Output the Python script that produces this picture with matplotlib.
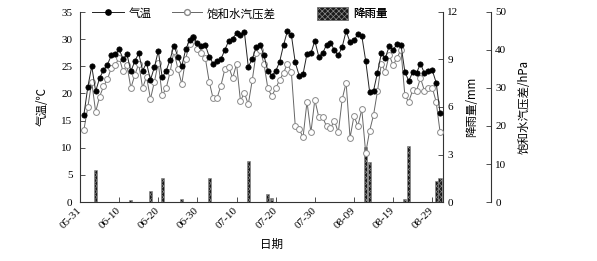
import matplotlib
matplotlib.use('Agg')
import matplotlib.pyplot as plt
import matplotlib.dates as mdates
import matplotlib.transforms as mtransforms
from matplotlib.lines import Line2D
from matplotlib.patches import Patch
import datetime as dt

# ---------------- data ----------------
start = dt.date(2013, 6, 1)
dates = [start + dt.timedelta(days=i) for i in range(92)]   # 06-01 .. 08-31

temp = [16.1, 21.2, 25.0, 20.4, 22.8, 24.3, 25.3, 27.0, 27.2, 28.1,
        26.4, 27.2, 24.1, 25.9, 27.4, 24.2, 25.6, 22.5, 24.8, 27.8,
        23.0, 24.1, 26.2, 28.8, 26.8, 25.0, 28.1, 29.8, 30.4, 29.2,
        28.8, 29.0, 26.8, 25.5, 25.9, 26.3, 28.0, 29.7, 30.1, 31.1,
        30.7, 31.3, 24.9, 26.3, 28.5, 29.0, 27.0, 24.1, 23.3, 24.1,
        25.8, 28.9, 31.5, 30.8, 25.7, 23.3, 23.6, 27.3, 27.4, 29.7,
        26.8, 27.4, 29.0, 29.3, 28.0, 27.0, 28.6, 31.5, 29.4, 29.8,
        30.9, 30.6, 26.0, 20.3, 20.5, 23.8, 27.4, 26.5, 28.7, 28.0,
        29.1, 29.0, 24.0, 22.3, 23.9, 23.8, 25.5, 23.7, 24.2, 24.3,
        22.0, 16.4]

vpd = [19.0, 25.0, 31.6, 23.7, 27.7, 30.4, 32.3, 35.3, 36.0, 38.0,
       34.4, 36.0, 30.0, 33.4, 36.4, 30.0, 33.0, 27.1, 31.6, 36.6,
       28.1, 29.9, 34.1, 39.7, 35.1, 31.1, 37.7, 41.6, 43.4, 40.3,
       39.1, 38.0, 31.7, 27.3, 27.3, 30.6, 34.9, 35.6, 32.6, 36.3,
       26.6, 28.7, 25.7, 32.0, 39.1, 40.0, 36.4, 29.9, 27.9, 29.9,
       32.1, 34.0, 36.4, 34.3, 20.0, 19.1, 17.1, 26.4, 18.3, 26.9,
       22.4, 22.3, 19.9, 19.4, 21.4, 18.3, 27.1, 31.4, 16.9, 22.6,
       20.0, 24.4, 12.9, 18.7, 22.9, 29.1, 36.4, 34.3, 38.7, 36.0,
       37.9, 40.1, 28.1, 26.4, 29.4, 29.3, 32.6, 29.3, 29.9, 30.1,
       26.4, 18.4]

rain_dates = ['06-04', '06-13', '06-18', '06-21', '06-26', '07-03', '07-13',
              '07-18', '07-19', '08-12', '08-13', '08-22', '08-23', '08-30', '08-31']
rain = [2.0, 0.13, 0.71, 1.5, 0.21, 1.5, 2.6, 0.5, 0.27, 3.5, 2.5, 0.19, 3.54, 1.33, 1.5]

tick_labels = ['05-31', '06-10', '06-20', '06-30', '07-10', '07-20', '07-30',
               '08-09', '08-19', '08-29']

rain_x = [dt.date(2013, int(s[:2]), int(s[3:])) for s in rain_dates]
tick_x = [dt.date(2013, int(s[:2]), int(s[3:])) for s in tick_labels]

# ---------------- style ----------------
FS = 8
NUM_FONT = ['Liberation Serif', 'Noto Sans CJK SC']
CJK_FONT = ['Noto Sans CJK SC', 'Liberation Serif']
plt.rcParams['font.family'] = NUM_FONT
plt.rcParams['font.size'] = FS
plt.rcParams['axes.unicode_minus'] = False
plt.rcParams['hatch.linewidth'] = 0.5

SP = '#333333'

fig = plt.figure(figsize=(5.97, 2.61), dpi=100)
ax = fig.add_axes([80 / 597, 1 - 202 / 261, 363 / 597, 190 / 261])
ax_r = ax.twinx()
ax_v = ax.twinx()

ax_r.set_zorder(1)
ax_v.set_zorder(2)
ax.set_zorder(3)
ax.patch.set_visible(False)
ax_v.patch.set_visible(False)

# rainfall bars
bars = ax_r.bar(rain_x, rain, width=0.8, facecolor='#1a1a1a', edgecolor='#8a8a8a',
                hatch='xxxxxx', linewidth=0.4)

# vapour pressure deficit
ax_v.plot(dates, vpd, '-', color='#666666', lw=0.7, marker='o', ms=4.2,
          mfc='white', mec='#8a8a8a', mew=0.7)

# temperature
ax.plot(dates, temp, '-', color='#222222', lw=0.7, marker='o', ms=3.8,
        mfc='black', mec='black', mew=0.5)

x0 = dt.date(2013, 5, 31)
x1 = mdates.num2date(mdates.date2num(x0) + 92.75)
for a in (ax, ax_r, ax_v):
    a.set_xlim(x0, x1)

ax.set_ylim(0, 35)
ax.set_yticks(range(0, 36, 5))
ax_r.set_ylim(0, 12)
ax_r.set_yticks([0, 3, 6, 9, 12])
ax_v.set_ylim(0, 50)
ax_v.set_yticks(range(0, 51, 10))

ax.set_xticks(tick_x)
ax.set_xticklabels(tick_labels, rotation=45, ha='right', va='center',
                   rotation_mode='anchor')
offset = mtransforms.ScaledTranslation(4 / 100, -1 / 100, fig.dpi_scale_trans)
for lab in ax.get_xticklabels():
    lab.set_transform(lab.get_transform() + offset)

# spines
for s in ax.spines.values():
    s.set_color(SP); s.set_linewidth(0.8)
ax.spines['top'].set_visible(False)
ax.spines['right'].set_visible(False)
for a in (ax_r, ax_v):
    for k in ('top', 'left', 'bottom'):
        a.spines[k].set_visible(False)
    a.spines['right'].set_color(SP)
    a.spines['right'].set_linewidth(0.8)
ax_v.spines['right'].set_position(('axes', (491 - 80) / 363))

ax.tick_params(axis='y', direction='in', length=3.5, width=0.6, color=SP, pad=5.5,
               labelsize=FS)
ax.tick_params(axis='x', direction='in', length=3.5, width=0.6, color=SP, pad=5,
               labelsize=FS)
for a in (ax_r, ax_v):
    a.tick_params(axis='y', direction='in', length=3.5, width=0.6, color=SP, pad=3,
                  labelsize=FS)

# labels
ax.set_ylabel('气温/℃', family=CJK_FONT, fontsize=8.3)
ax.yaxis.set_label_coords((49 - 80) / 363, 0.5)
ax_r.set_ylabel('降雨量/mm', family=CJK_FONT, fontsize=8.3)
ax_r.yaxis.set_label_coords((465 - 80) / 363, 0.5)
ax_v.set_ylabel('饱和水汽压差/hPa', family=CJK_FONT, fontsize=8.3)
ax_v.yaxis.set_label_coords((518 - 80) / 363, 0.5)
ax.set_xlabel('日期', family=CJK_FONT, fontsize=8.3)
ax.xaxis.set_label_coords((272 - 80) / 363, (202 - 238) / 190)

# legends
h1 = Line2D([], [], color='#222222', lw=0.7, marker='o', ms=3.8, mfc='black', mec='black')
h2 = Line2D([], [], color='#666666', lw=0.7, marker='o', ms=4.2, mfc='white', mec='#8a8a8a')
h3 = Patch(facecolor='#1a1a1a', edgecolor='#8a8a8a', hatch='xxxxxx', linewidth=0.4)
leg_specs = [(h1, '气温', 92, 2.8), (h2, '饱和水汽压差', 172, 2.6), (h3, '降雨量', 317, 2.7)]
for h, lab, xpx, hl in leg_specs:
    lg = ax.legend([h], [lab], loc='center left',
                   bbox_to_anchor=((xpx - 80) / 363, (202 - 13.5) / 190),
                   frameon=False, borderpad=0, borderaxespad=0, handlelength=hl,
                   handleheight=1.45, handletextpad=0.4,
                   prop={'family': CJK_FONT, 'size': 8.3})
    ax.add_artist(lg)

fig.savefig('out.png', dpi=100)
